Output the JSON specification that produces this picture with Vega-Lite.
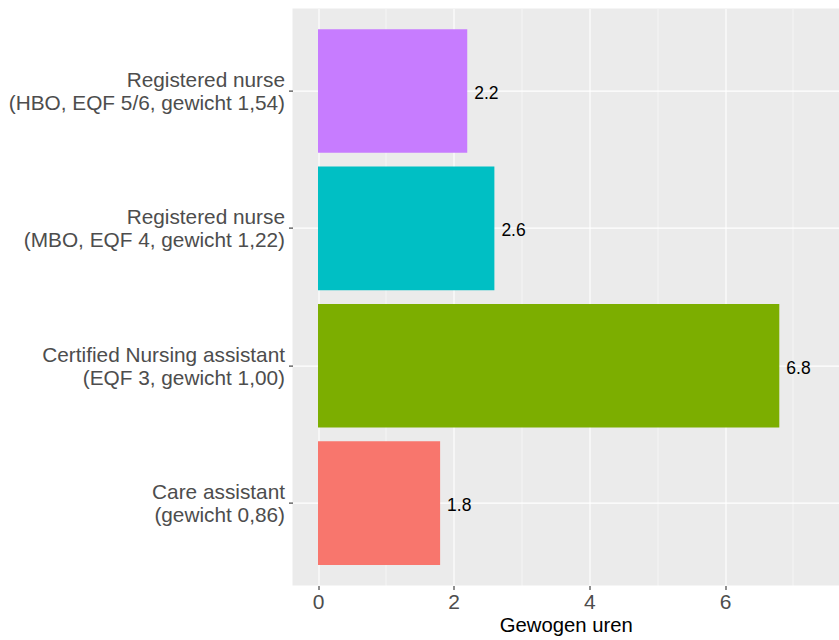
{
  "$schema": "https://vega.github.io/schema/vega-lite/v6.json",
  "width": 546.5,
  "height": 577,
  "autosize": {"type": "none"},
  "padding": {"left": 292.5, "top": 8.6, "right": 0, "bottom": 54.4},
  "background": "white",
  "config": {
    "view": {"fill": "#EBEBEB", "stroke": null},
    "font": "Liberation Sans"
  },
  "data": {
    "values": [
      {"rol": "Registered nurse\n(HBO, EQF 5/6, gewicht 1,54)", "uren": 2.2},
      {"rol": "Registered nurse\n(MBO, EQF 4, gewicht 1,22)", "uren": 2.6},
      {"rol": "Certified Nursing assistant\n(EQF 3, gewicht 1,00)", "uren": 6.8},
      {"rol": "Care assistant\n(gewicht 0,86)", "uren": 1.8}
    ]
  },
  "encoding": {
    "y": {
      "field": "rol",
      "type": "nominal",
      "sort": [
        "Registered nurse\n(HBO, EQF 5/6, gewicht 1,54)",
        "Registered nurse\n(MBO, EQF 4, gewicht 1,22)",
        "Certified Nursing assistant\n(EQF 3, gewicht 1,00)",
        "Care assistant\n(gewicht 0,86)"
      ],
      "scale": {"paddingInner": 0.1, "paddingOuter": 0.15},
      "axis": {
        "title": null,
        "labelExpr": "split(datum.label, '\\n')",
        "labelFontSize": 20.8,
        "labelColor": "#4D4D4D",
        "labelLineHeight": 23,
        "labelBaseline": "middle",
        "labelOffset": -10,
        "labelPadding": 4,
        "labelLimit": 400,
        "tickColor": "#333333",
        "tickSize": 4,
        "tickWidth": 1.1,
        "domain": false,
        "grid": true,
        "gridColor": "white",
        "gridWidth": 1.1
      }
    }
  },
  "layer": [
    {
      "mark": {"type": "bar"},
      "encoding": {
        "x": {
          "field": "uren",
          "type": "quantitative",
          "scale": {"domain": [-0.376, 7.68], "nice": false, "zero": false},
          "axis": {
            "values": [0, 2, 4, 6],
            "title": "Gewogen uren",
            "titleFontSize": 20.3,
            "titleColor": "black",
            "titleFontWeight": "normal",
            "titlePadding": 3,
            "labelFontSize": 21,
            "labelColor": "#4D4D4D",
            "labelPadding": 2,
            "tickColor": "#333333",
            "tickSize": 4,
            "tickWidth": 1.1,
            "domain": false,
            "grid": true,
            "gridColor": "white",
            "gridWidth": 1.1
          }
        },
        "x2": {"datum": 0},
        "color": {
          "field": "rol",
          "type": "nominal",
          "legend": null,
          "scale": {
            "domain": [
              "Care assistant\n(gewicht 0,86)",
              "Certified Nursing assistant\n(EQF 3, gewicht 1,00)",
              "Registered nurse\n(MBO, EQF 4, gewicht 1,22)",
              "Registered nurse\n(HBO, EQF 5/6, gewicht 1,54)"
            ],
            "range": ["#F8766D", "#7CAE00", "#00BFC4", "#C77CFF"]
          }
        }
      }
    },
    {
      "mark": {"type": "text", "align": "left", "baseline": "middle", "dx": 7, "dy": 3, "fontSize": 17.5, "color": "black"},
      "encoding": {
        "x": {
          "field": "uren",
          "type": "quantitative",
          "axis": {
            "orient": "top",
            "values": [1, 3, 5, 7],
            "title": null,
            "labels": false,
            "ticks": false,
            "domain": false,
            "grid": true,
            "gridColor": "white",
            "gridWidth": 0.55
          }
        },
        "text": {"field": "uren", "type": "quantitative", "format": ".1f"}
      }
    }
  ],
  "resolve": {"axis": {"x": "independent"}}
}
